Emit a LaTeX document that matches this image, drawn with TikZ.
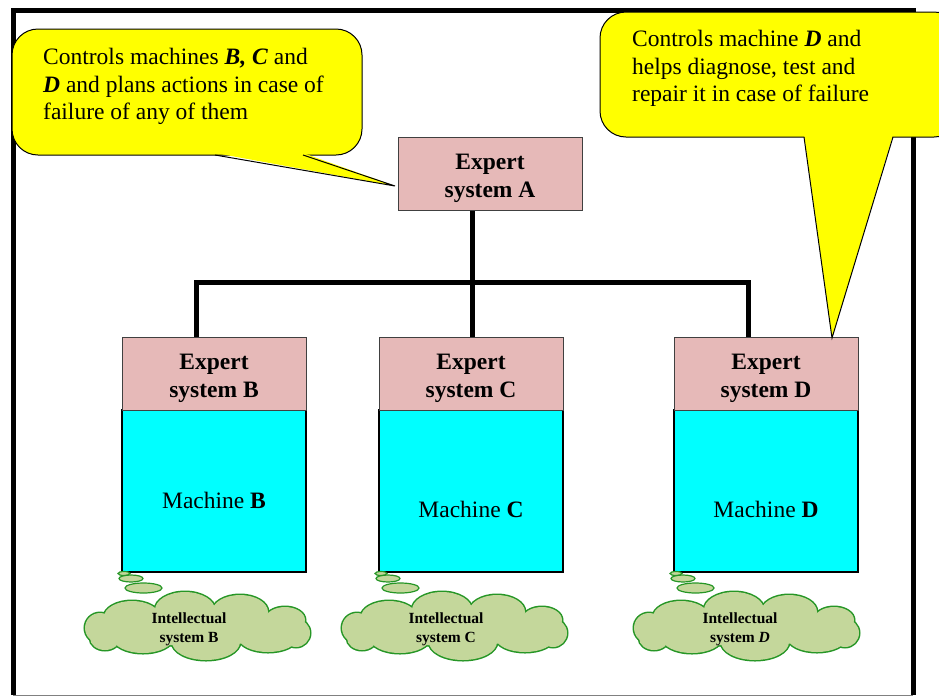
\documentclass[tikz,border=0pt]{standalone}
\usepackage{fontspec}
\setmainfont{Liberation Serif}
\usetikzlibrary{shapes.geometric}
\definecolor{pinkbox}{RGB}{230,185,184}
\definecolor{cyanbox}{RGB}{0,255,255}
\definecolor{callout}{RGB}{255,255,0}
\definecolor{cloudfill}{RGB}{196,215,155}
\definecolor{cloudline}{RGB}{38,150,38}
\newcommand\calloutfont{\fontsize{23.5}{27.5}\selectfont}
\newcommand\cloudfont{\fontsize{15.5}{19}\selectfont\bfseries}
\newcommand\puffs{-97.5/2/15/15, -65.5/-9/28/16, -12.5/-16/30/18, 42.5/-14/28/17, 87.5/-6/20/13, 98.5/7/14/14, 70.5/12/29/14, 8.5/16/34/18, -54.5/12/30/15, -92.5/12/15/12, 0/0/90/20}
\begin{document}
\begin{tikzpicture}[x=1pt,y=-1pt,
  esys/.style={draw=black!75, fill=pinkbox, minimum width=184pt, minimum height=73pt, inner sep=0pt, line width=1pt},
  etext/.style={align=center, font=\calloutfont\bfseries, inner sep=0pt},
  mach/.style={draw=black, fill=cyanbox, minimum width=184pt, minimum height=162pt, inner sep=0pt, line width=1.5pt},
  mtext/.style={font=\calloutfont, inner sep=0pt},
  tree/.style={line width=5pt, line join=miter},
  ctext/.style={font=\calloutfont, align=left, inner sep=0pt, anchor=north west},
  callbox/.style={draw=black, fill=callout, line width=1pt, rounded corners=26pt, inner sep=0pt},
  bub/.style={ellipse, draw=cloudline, fill=cloudfill, line width=1.2pt, inner sep=0pt},
  cltext/.style={font=\cloudfont, align=center, inner sep=0pt},
  cloudpic/.pic={
    \foreach \px/\py/\rx/\ry in \puffs {
      \draw[cloudline, fill=cloudfill, line width=3pt] (\px,\py) ellipse [x radius=\rx, y radius=\ry];
    }
    \foreach \px/\py/\rx/\ry in \puffs {
      \fill[cloudfill] (\px,\py) ellipse [x radius=\rx, y radius=\ry];
    }
  }
]
\useasboundingbox (0,0) rectangle (939,697);
\clip (0,0) rectangle (939,697);

% frame
\coordinate (f1) at (13,695);
\coordinate (f2) at (13,10);
\coordinate (f3) at (913,10);
\coordinate (f4) at (913,695);
\draw[line width=5pt, line join=miter] (f1) -- (f2) -- (f3) -- (f4);
\draw[gray, line width=1pt] (f1) -- (f4);

% junctions of tree
\coordinate (j) at (472,282);
\coordinate (jb) at (196,282);
\coordinate (jd) at (748,282);

% boxes
\path (490,173.5) node[esys] (ea) {};
\path (214,491) node[mach] (mb) {} (471,491) node[mach] (mc) {} (766,491) node[mach] (md) {};
\path (214,373.5) node[esys] (eb) {} (471,373.5) node[esys] (ec) {} (766,373.5) node[esys] (ed) {};

% tree connectors
\draw[tree] (j |- ea.south) -- (j);
\draw[tree] (jb |- eb.north) -- (jb) -- (jd) -- (jd |- ed.north);
\draw[tree] (j) -- (j |- ec.north);

% redraw box borders over connector ends
\node[esys] (ea2) at (ea) {};
\node[esys] (eb2) at (eb) {};
\node[esys] (ec2) at (ec) {};
\node[esys] (ed2) at (ed) {};

\node[etext] (eat) at ([yshift=-5pt]ea.center) {Expert\\system A};
\node[etext] (ebt) at ([yshift=-5pt]eb.center) {Expert\\system B};
\node[etext] (ect) at ([yshift=-5pt]ec.center) {Expert\\system C};
\node[etext] (edt) at ([yshift=-5pt]ed.center) {Expert\\system D};
\node[mtext] (tb) at (214,500) {Machine \textbf{B}};
\node[mtext] (tc) at (471,509) {Machine \textbf{C}};
\node[mtext] (td) at (766,509) {Machine \textbf{D}};

% clouds
\pic at (197.5,626) {cloudpic};
\pic at (454.5,626) {cloudpic};
\pic at (746.5,626) {cloudpic};
\node[cltext] (lb) at (189,629) {Intellectual\\system B};
\node[cltext] (lc) at (446,629) {Intellectual\\system C};
\node[cltext] (ld) at (740,629) {Intellectual\\system \textit{D}};

\foreach \dx/\n in {0/b, 257/c, 552/d}{
  \node[bub, minimum width=12pt, minimum height=4pt] (b1\n) at (124+\dx,573.5) {};
  \node[bub, minimum width=24pt, minimum height=7pt] (b2\n) at (131+\dx,578.5) {};
  \node[bub, minimum width=37pt, minimum height=10pt] (b3\n) at (143.5+\dx,588) {};
}

% left callout
\node[callbox, minimum width=350pt, minimum height=126pt] (lc0) at (187,92) {};
\coordinate (lt) at (395,186);
\coordinate (la) at (215,155);
\coordinate (lb2) at (303,155);
\fill[callout] ([yshift=2pt]la) -- (lt) -- ([yshift=2pt]lb2) -- cycle;
\draw[line width=1pt, line join=miter] (la) -- (lt) -- (lb2);
\node[ctext] (lct) at (43,48) {Controls machines \textbf{\textit{B, C}} and\\\textbf{\textit{D}} and plans actions in case of\\failure of any of them};

% right callout
\node[callbox, minimum width=360pt, minimum height=125pt] (rc0) at (780,74.5) {};
\coordinate (rt) at (832,338);
\coordinate (ra) at (804,137);
\coordinate (rb) at (893,137);
\fill[callout] ([yshift=2pt]ra) -- (rt) -- ([yshift=2pt]rb) -- cycle;
\draw[line width=1pt, line join=miter] (ra) -- (rt) -- (rb);
\node[ctext] (rct) at (632,30) {Controls machine \textbf{\textit{D}} and\\helps diagnose, test and\\repair it in case of failure};
\end{tikzpicture}
\end{document}
